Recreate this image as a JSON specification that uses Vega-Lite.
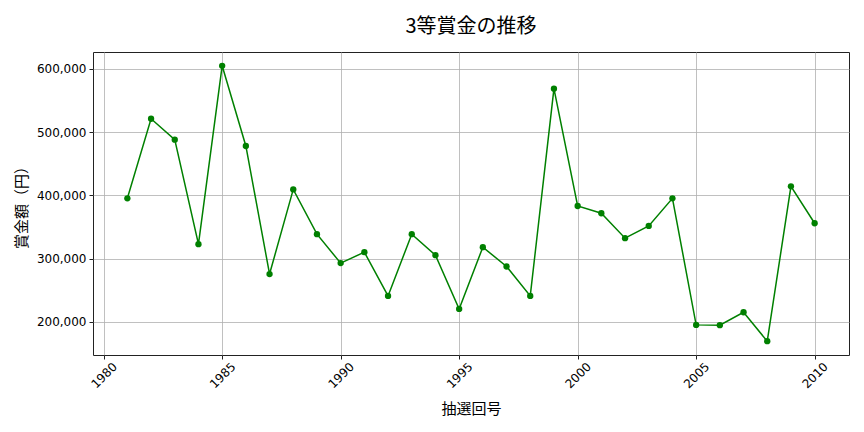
{
  "$schema": "https://vega.github.io/schema/vega-lite/v6.json",
  "width": 756,
  "height": 303,
  "autosize": "none",
  "padding": {"left": 93, "top": 52, "right": 15, "bottom": 77},
  "background": "white",
  "config": {
    "font": "Noto Sans CJK JP",
    "view": {"stroke": "#222222", "strokeWidth": 1},
    "axis": {
      "gridColor": "#b0b0b0",
      "gridWidth": 0.8,
      "domain": false,
      "tickColor": "#222222",
      "tickSize": 4,
      "labelFont": "DejaVu Sans",
      "labelColor": "#000000",
      "labelFontSize": 12,
      "titleColor": "#000000",
      "titleFontSize": 15,
      "titleFontWeight": "normal"
    }
  },
  "title": {
    "text": "3等賞金の推移",
    "fontSize": 20,
    "fontWeight": "normal",
    "color": "#000000",
    "offset": 15
  },
  "data": {
    "values": [
      {"year": 1981, "prize": 395300},
      {"year": 1982, "prize": 521000},
      {"year": 1983, "prize": 488000},
      {"year": 1984, "prize": 322800},
      {"year": 1985, "prize": 604700},
      {"year": 1986, "prize": 478000},
      {"year": 1987, "prize": 275600},
      {"year": 1988, "prize": 409400},
      {"year": 1989, "prize": 338600},
      {"year": 1990, "prize": 292900},
      {"year": 1991, "prize": 310200},
      {"year": 1992, "prize": 241000},
      {"year": 1993, "prize": 338600},
      {"year": 1994, "prize": 305500},
      {"year": 1995, "prize": 220500},
      {"year": 1996, "prize": 318100},
      {"year": 1997, "prize": 287600},
      {"year": 1998, "prize": 241000},
      {"year": 1999, "prize": 568500},
      {"year": 2000, "prize": 383200},
      {"year": 2001, "prize": 371700},
      {"year": 2002, "prize": 332300},
      {"year": 2003, "prize": 351700},
      {"year": 2004, "prize": 395300},
      {"year": 2005, "prize": 195300},
      {"year": 2006, "prize": 194800},
      {"year": 2007, "prize": 215200},
      {"year": 2008, "prize": 169500},
      {"year": 2009, "prize": 414200},
      {"year": 2010, "prize": 355900}
    ]
  },
  "encoding": {
    "x": {
      "field": "year",
      "type": "quantitative",
      "scale": {"domain": [1979.55, 2011.45], "nice": false, "zero": false},
      "axis": {
        "title": "抽選回号",
        "values": [1980, 1985, 1990, 1995, 2000, 2005, 2010],
        "format": "d",
        "labelAngle": -45,
        "labelAlign": "center",
        "labelBaseline": "middle",
        "labelPadding": 16,
        "titlePadding": 11
      }
    },
    "y": {
      "field": "prize",
      "type": "quantitative",
      "scale": {"domain": [147700, 626500], "nice": false, "zero": false},
      "axis": {
        "title": "賞金額（円）",
        "values": [200000, 300000, 400000, 500000, 600000],
        "format": ",d",
        "labelPadding": 3,
        "titlePadding": 7
      }
    }
  },
  "layer": [
    {"mark": {"type": "line", "color": "#008000", "strokeWidth": 1.5}},
    {"mark": {"type": "point", "filled": true, "color": "#008000", "opacity": 1, "size": 40}}
  ]
}
